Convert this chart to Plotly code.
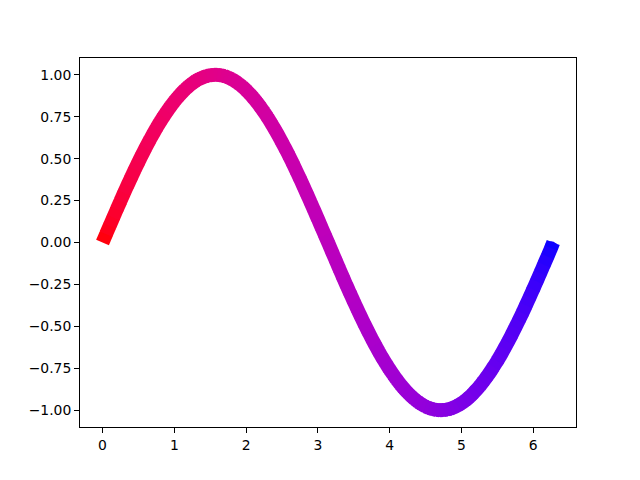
import plotly.graph_objects as go

x_vals = [0.00, 0.05, 0.10, 0.15, 0.20, 0.25, 0.30, 0.35, 0.40, 0.45,
          0.50, 0.55, 0.60, 0.65, 0.70, 0.75, 0.80, 0.85, 0.90, 0.95,
          1.00, 1.05, 1.10, 1.15, 1.20, 1.25, 1.30, 1.35, 1.40, 1.45,
          1.50, 1.55, 1.60, 1.65, 1.70, 1.75, 1.80, 1.85, 1.90, 1.95,
          2.00, 2.05, 2.10, 2.15, 2.20, 2.25, 2.30, 2.35, 2.40, 2.45,
          2.50, 2.55, 2.60, 2.65, 2.70, 2.75, 2.80, 2.85, 2.90, 2.95,
          3.00, 3.05, 3.10, 3.15, 3.20, 3.25, 3.30, 3.35, 3.40, 3.45,
          3.50, 3.55, 3.60, 3.65, 3.70, 3.75, 3.80, 3.85, 3.90, 3.95,
          4.00, 4.05, 4.10, 4.15, 4.20, 4.25, 4.30, 4.35, 4.40, 4.45,
          4.50, 4.55, 4.60, 4.65, 4.70, 4.75, 4.80, 4.85, 4.90, 4.95,
          5.00, 5.05, 5.10, 5.15, 5.20, 5.25, 5.30, 5.35, 5.40, 5.45,
          5.50, 5.55, 5.60, 5.65, 5.70, 5.75, 5.80, 5.85, 5.90, 5.95,
          6.00, 6.05, 6.10, 6.15, 6.20, 6.25, 6.28]
y_vals = [0.000, 0.050, 0.100, 0.149, 0.199, 0.247, 0.296, 0.343, 0.389, 0.435,
          0.479, 0.523, 0.565, 0.605, 0.644, 0.682, 0.717, 0.751, 0.783, 0.813,
          0.841, 0.867, 0.891, 0.913, 0.932, 0.949, 0.964, 0.976, 0.985, 0.993,
          0.997, 1.000, 1.000, 0.997, 0.992, 0.984, 0.974, 0.961, 0.946, 0.929,
          0.909, 0.887, 0.863, 0.837, 0.808, 0.778, 0.746, 0.711, 0.675, 0.638,
          0.598, 0.558, 0.516, 0.472, 0.427, 0.382, 0.335, 0.287, 0.239, 0.190,
          0.141, 0.091, 0.042, -0.008, -0.058, -0.108, -0.158, -0.207, -0.256, -0.304,
          -0.351, -0.397, -0.443, -0.487, -0.530, -0.572, -0.612, -0.651, -0.688, -0.723,
          -0.757, -0.788, -0.818, -0.846, -0.872, -0.895, -0.916, -0.935, -0.952, -0.966,
          -0.978, -0.987, -0.994, -0.998, -1.000, -0.999, -0.996, -0.991, -0.982, -0.972,
          -0.959, -0.944, -0.926, -0.906, -0.883, -0.859, -0.832, -0.803, -0.773, -0.740,
          -0.706, -0.670, -0.631, -0.592, -0.551, -0.508, -0.465, -0.420, -0.374, -0.327,
          -0.279, -0.231, -0.182, -0.132, -0.083, -0.033, 0.000]
x_ticks = [0, 1, 2, 3, 4, 5, 6]
y_ticks = [-1.00, -0.75, -0.50, -0.25, 0.00, 0.25, 0.50, 0.75, 1.00]


def srgb(c):
    if c <= 0.0031308:
        v = 12.92 * c
    else:
        v = 1.055 * c ** (1 / 2.4) - 0.055
    return round(255 * v)


def grad(t):
    return f"rgb({srgb(1 - t)},0,{srgb(t)})"


LW = 13.9
fig = go.Figure()
n = len(x_vals) - 1

# round fill at interior joints so the thick band has no notches
fig.add_trace(go.Scatter(
    x=x_vals[1:-1], y=y_vals[1:-1], mode="markers",
    marker=dict(size=LW - 0.5, color=[grad(i / n) for i in range(1, n)], line=dict(width=0)),
    showlegend=False, hoverinfo="skip"))

for i in range(n):
    t = (i + 0.5) / n
    fig.add_trace(go.Scatter(
        x=[x_vals[i], x_vals[i + 1]], y=[y_vals[i], y_vals[i + 1]],
        mode="lines", line=dict(color=grad(t), width=LW),
        showlegend=False, hoverinfo="skip"))

axis_common = dict(showgrid=False, zeroline=False, showline=True, linecolor="black",
                   linewidth=1.1, mirror=True, ticks="outside", ticklen=4.9,
                   tickwidth=1.1, tickcolor="black",
                   tickfont=dict(family="DejaVu Sans", size=13.9, color="black"))

fig.update_xaxes(range=[-0.314, 6.597], tickvals=x_ticks,
                 ticktext=[str(v) for v in x_ticks], **axis_common)
fig.update_yaxes(range=[-1.1, 1.1], tickvals=y_ticks,
                 ticktext=[f"{v:.2f}".replace("-", "\u2212") for v in y_ticks], **axis_common)

fig.update_layout(width=640, height=480, plot_bgcolor="white", paper_bgcolor="white",
                  margin=dict(l=72, r=72, t=50, b=61))
fig.write_html("out.html")
